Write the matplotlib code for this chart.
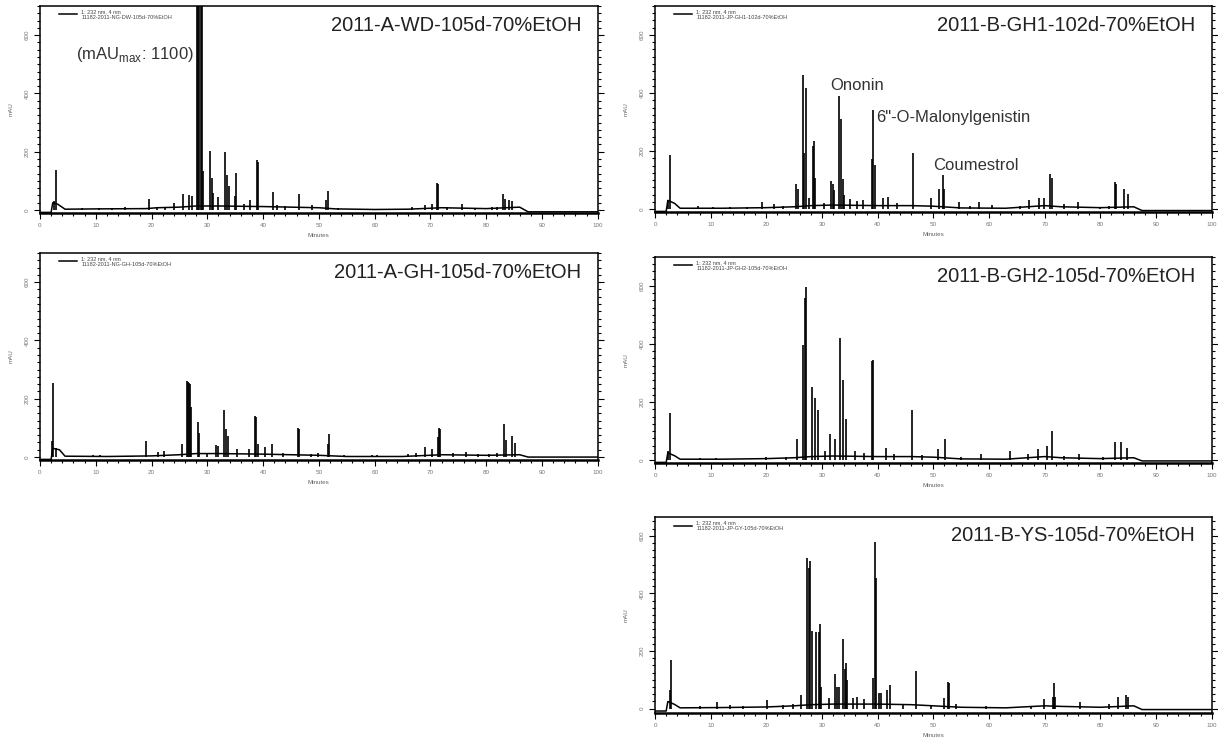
import numpy as np
import matplotlib.pyplot as plt
from matplotlib.ticker import MultipleLocator

plt.rcParams['font.family'] = ['Liberation Sans', 'DejaVu Sans']

# --- 2011-A-WD (peak retention time in min, peak height in mAU) ---
wd_peak_t = [2.5, 2.8, 7.5, 10.5, 13.0, 15.2, 19.6, 21.0, 22.5, 24.1, 25.6, 26.8, 27.2,
             28.2, 28.4, 28.6, 28.8, 29.0, 29.2,
             30.5, 30.8, 31.1, 31.9, 33.2, 33.5, 33.9, 34.9, 35.2, 36.5, 37.6, 38.9, 39.1,
             41.7, 42.5, 44.0, 46.4, 48.8, 51.2, 51.7, 53.5, 57.0, 62.0, 66.7, 69.1, 70.3,
             71.1, 71.3, 73.0, 75.7, 78.0, 81.0, 82.0, 83.0, 83.3, 84.1, 84.6]
wd_peak_h = [31, 137, 8, 6, 6, 9, 39, 10, 12, 25, 56, 52, 48,
             1100, 1100, 1100, 1100, 1100, 134,
             203, 109, 57, 46, 198, 120, 83, 48, 126, 22, 34, 171, 165,
             62, 18, 15, 56, 17, 34, 65, 8, 5, 5, 10, 17, 20,
             92, 88, 10, 20, 8, 10, 12, 54, 37, 35, 30]
wd_base_t = [0, 2.0, 2.3, 3.2, 4.5, 10, 19, 21, 25, 28, 32, 40, 45, 50, 53, 60, 66, 72, 80, 86, 87.5, 100]
wd_base_y = [-8, -8, 25, 20, 3, 4, 5, 8, 10, 14, 14, 12, 10, 8, 4, 2, 3, 8, 5, 10, -6, -6]

# --- 2011-A-GH ---
ga_peak_t = [2.2, 2.4, 2.8, 9.5, 10.8, 16.5, 19.1, 21.2, 22.3, 25.4, 26.4, 26.6, 26.8,
             26.9, 27.1, 28.3, 28.6, 30.0, 31.6, 31.9, 33.0, 33.3, 33.7, 35.4, 37.5,
             38.6, 38.8, 39.0, 40.4, 41.6, 43.5, 46.2, 46.4, 48.5, 49.8, 51.6, 51.8,
             54.5, 59.5, 60.5, 66.0, 67.5, 69.1, 70.3, 71.3, 71.5, 71.7, 74.0, 76.3,
             78.5, 80.5, 82.0, 83.2, 83.6, 84.6, 85.1]
ga_peak_h = [55, 253, 30, 6, 8, 5, 55, 17, 21, 46, 260, 258, 255,
             250, 173, 121, 84, 15, 41, 38, 161, 95, 72, 26, 26,
             141, 138, 46, 34, 46, 14, 99, 95, 10, 14, 44, 78,
             8, 6, 8, 12, 15, 36, 26, 70, 101, 95, 15, 18,
             10, 10, 14, 115, 57, 72, 49]
ga_base_t = [0, 2.0, 2.3, 3.5, 4.5, 12, 20, 25, 28, 32, 40, 45, 50, 55, 65, 72, 80, 86, 87.5, 100]
ga_base_y = [-8, -8, 30, 25, 3, 2, 4, 8, 12, 12, 10, 8, 6, 2, 2, 8, 6, 8, 0, 0]

# --- 2011-B-GH1 ---
g1_peak_t = [2.4, 2.7, 7.8, 10.5, 13.5, 16.5, 19.3, 21.4, 23.0, 25.3, 25.6, 26.6, 26.8,
             27.2, 27.7, 28.3, 28.6, 28.8, 30.3,
             31.6, 31.9, 32.2, 33.1, 33.4, 33.7, 34.0, 35.1, 36.2, 37.4, 39.0, 39.2, 39.5,
             41.0, 41.9, 43.5, 46.4, 49.6, 51.0, 51.8, 52.0, 54.6, 56.5, 58.2, 60.5,
             65.5, 67.1, 69.0, 69.8, 71.0, 71.3, 73.5, 75.9, 80.0, 81.5, 82.6, 82.8,
             84.2, 84.9]
g1_peak_h = [31, 188, 10, 8, 6, 8, 23, 16, 12, 85, 69, 462, 192,
             416, 39, 218, 234, 106, 20,
             97, 85, 65, 390, 310, 103, 48, 34, 28, 31, 171, 341, 152,
             37, 43, 22, 192, 39, 68, 117, 71, 25, 12, 25, 14,
             12, 31, 37, 39, 120, 106, 16, 25, 8, 10, 92, 88,
             71, 51]
g1_base_t = [0, 2.0, 2.3, 3.5, 4.5, 12, 20, 25, 28, 32, 40, 46, 50, 55, 63, 70, 73, 80, 86, 87.5, 100]
g1_base_y = [-8, -8, 30, 20, 3, 3, 5, 8, 12, 14, 12, 12, 10, 4, 3, 12, 8, 5, 8, -5, -5]

# --- 2011-B-GH2 ---
g2_peak_t = [2.4, 2.7, 8.0, 11.0, 20.0, 23.5, 25.5, 26.6, 26.9, 27.1, 28.2, 28.7, 29.3,
             30.5, 31.4, 32.3, 33.2, 33.8, 34.3, 36.0, 37.5, 38.9, 39.1, 41.5, 43.0,
             46.1, 48.0, 50.8, 52.1, 55.0, 58.5, 63.7, 67.0, 68.8, 70.5, 71.3, 73.5,
             76.2, 80.5, 82.6, 83.8, 84.7]
g2_peak_h = [30, 161, 8, 8, 12, 12, 72, 397, 560, 595, 253, 215, 174,
             30, 89, 72, 420, 277, 140, 30, 25, 340, 345, 40, 22,
             174, 16, 38, 72, 12, 22, 30, 20, 38, 48, 99, 14,
             20, 10, 61, 61, 41]
g2_base_t = [0, 2.0, 2.3, 3.5, 4.5, 12, 20, 25, 28, 32, 40, 46, 50, 55, 63, 70, 73, 80, 86, 87.5, 100]
g2_base_y = [-8, -8, 25, 15, 3, 3, 5, 8, 12, 14, 12, 12, 10, 4, 3, 12, 8, 5, 8, -3, -3]

# --- 2011-B-YS ---
ys_peak_t = [2.6, 2.8, 8.0, 11.1, 13.5, 15.8, 20.1, 23.0, 24.8, 26.2, 27.3, 27.6, 27.9,
             28.2, 29.0, 29.4, 29.7, 29.9,
             31.3, 32.3, 32.7, 33.0, 33.8, 34.1, 34.3, 34.5, 35.5, 36.2, 37.6, 39.1,
             39.5, 39.7, 40.2, 40.6, 41.6, 42.2, 44.5, 46.9, 49.5, 51.9, 52.6, 52.8,
             54.0, 59.5, 67.6, 69.9, 71.5, 71.7, 71.8, 76.4, 81.6, 83.2, 84.6, 85.0]
ys_peak_h = [65, 170, 8, 22, 12, 10, 29, 14, 18, 48, 522, 488, 511,
             271, 265, 265, 294, 77,
             37, 122, 77, 77, 242, 139, 157, 99, 37, 42, 33, 105,
             580, 454, 54, 54, 65, 82, 18, 130, 14, 37, 94, 88,
             16, 8, 10, 33, 42, 88, 42, 22, 16, 39, 48, 42]
ys_base_t = [0, 2.0, 2.3, 3.5, 4.5, 12, 20, 25, 28, 32, 40, 46, 50, 55, 63, 70, 73, 80, 86, 87.5, 100]
ys_base_y = [-8, -8, 25, 15, 3, 4, 6, 10, 14, 16, 16, 14, 10, 5, 3, 10, 8, 5, 10, -3, -3]

fig = plt.figure(figsize=(12.18, 7.46), dpi=100)

def panel(rect, peak_t, peak_h, base_t, base_y, title, sample, ylim):
    ax = fig.add_axes(rect)
    ln, = ax.plot(base_t, base_y, color='black', lw=1.1)
    ax.vlines(peak_t, 0, peak_h, color='black', lw=1.2)
    ax.set_xlim(0, 100)
    ax.set_ylim(*ylim)
    ax.xaxis.set_major_locator(MultipleLocator(10))
    ax.xaxis.set_minor_locator(MultipleLocator(2))
    ax.yaxis.set_major_locator(MultipleLocator(200))
    ax.yaxis.set_minor_locator(MultipleLocator(25))
    ax.tick_params(which='both', direction='out', right=True, labelsize=4.5,
                   labelcolor='#777777', width=0.8)
    ax.tick_params(which='major', length=4)
    ax.tick_params(which='minor', length=2)
    for lab in ax.get_yticklabels():
        lab.set_rotation(90)
        lab.set_va('center')
    for s in ax.spines.values():
        s.set_linewidth(1.1)
    ax.spines['bottom'].set_linewidth(1.8)
    ax.set_xlabel('Minutes', fontsize=4.5, color='#666666', labelpad=3)
    ax.set_ylabel('mAU', fontsize=4.5, color='#666666', labelpad=8)
    ax.legend([ln], ['1: 232 nm, 4 nm\n' + sample], loc='upper left',
              bbox_to_anchor=(0.025, 1.01), fontsize=4, frameon=False,
              handlelength=3.2, handletextpad=0.8, labelcolor='#444444')
    ax.text(0.97, 0.905, title, transform=ax.transAxes, ha='right', va='center',
            fontsize=14.5, color='#222222')
    return ax

L, R, W = 0.0328, 0.5378, 0.458
ax1 = panel([L, 0.7145, W, 0.2775], wd_peak_t, wd_peak_h, wd_base_t, wd_base_y,
            '2011-A-WD-105d-70%EtOH', '11182-2011-NG-DW-105d-70%EtOH', (-10, 700))
ax2 = panel([L, 0.3834, W, 0.2775], ga_peak_t, ga_peak_h, ga_base_t, ga_base_y,
            '2011-A-GH-105d-70%EtOH', '11182-2011-NG-GH-105d-70%EtOH', (-10, 700))
ax3 = panel([R, 0.7158, 0.457, 0.2762], g1_peak_t, g1_peak_h, g1_base_t, g1_base_y,
            '2011-B-GH1-102d-70%EtOH', '11182-2011-JP-GH1-102d-70%EtOH', (-10, 700))
ax4 = panel([R, 0.3794, 0.457, 0.2762], g2_peak_t, g2_peak_h, g2_base_t, g2_base_y,
            '2011-B-GH2-105d-70%EtOH', '11182-2011-JP-GH2-105d-70%EtOH', (-10, 700))
ax5 = panel([R, 0.0442, 0.457, 0.2627], ys_peak_t, ys_peak_h, ys_base_t, ys_base_y,
            '2011-B-YS-105d-70%EtOH', '11182-2011-JP-GY-105d-70%EtOH', (-15, 665))

ax1.text(0.17, 0.765, '(mAU$_{\\mathregular{max}}$: 1100)', transform=ax1.transAxes,
         ha='center', va='center', fontsize=12, color='#333333')
ax3.text(0.314, 0.615, 'Ononin', transform=ax3.transAxes, ha='left', va='center',
         fontsize=12, color='#333333')
ax3.text(0.397, 0.46, '6"-O-Malonylgenistin', transform=ax3.transAxes, ha='left',
         va='center', fontsize=12, color='#333333')
ax3.text(0.50, 0.228, 'Coumestrol', transform=ax3.transAxes, ha='left', va='center',
         fontsize=12, color='#333333')

plt.savefig('out.png', dpi=100)
